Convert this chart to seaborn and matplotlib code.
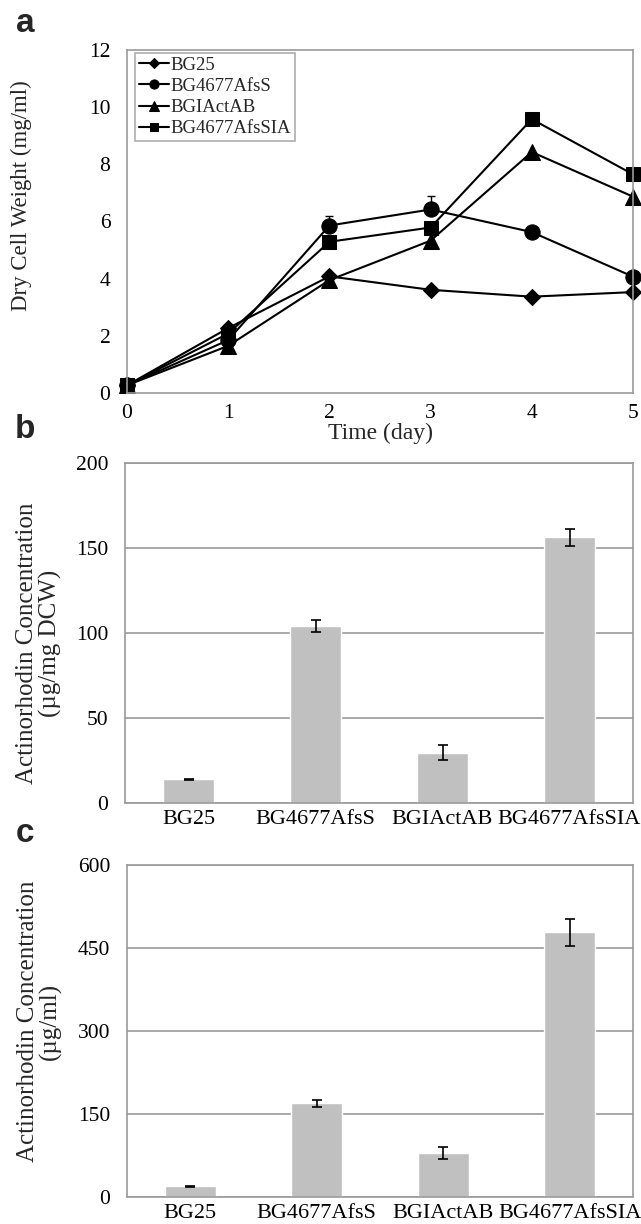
import numpy as np
import pandas as pd
import matplotlib
matplotlib.use("Agg")
import matplotlib.pyplot as plt
import seaborn as sns

# ---------------- data ----------------
days = [0, 1, 2, 3, 4, 5]
strains = ["BG25", "BG4677AfsS", "BGIActAB", "BG4677AfsSIA"]

dcw_bg25 = [0.27, 2.27, 4.08, 3.61, 3.37, 3.53]
dcw_afss = [0.27, 1.85, 5.86, 6.42, 5.63, 4.07]
dcw_actab = [0.27, 1.65, 3.95, 5.33, 8.43, 6.87]
dcw_afssia = [0.27, 2.08, 5.29, 5.79, 9.58, 7.65]
afss_err_days = [2, 3]
afss_err_up = [0.32, 0.48]

act_dcw = [14.1, 104.2, 29.7, 156.2]
act_dcw_err = [0.3, 3.5, 4.5, 4.8]
act_ml = [19.5, 169.0, 79.5, 478.5]
act_ml_err = [1.0, 6.5, 10.0, 24.0]

# ---------------- style ----------------
sns.set_theme(style="white")
plt.rcParams["font.family"] = ["Liberation Serif", "DejaVu Serif"]
FRAME = "#9a9a9a"
BAR = "#c0c0c0"
TICK_FS = 15.5
LAB_FS = 17

fig = plt.figure(figsize=(6.41, 12.24), dpi=100)
H = 1224.0
W = 641.0

def add_axes(l, r, t, b):
    return fig.add_axes([l / W, 1 - b / H, (r - l) / W, (b - t) / H])

# ---------------- panel a ----------------
axa = add_axes(127, 633, 50, 393)
series = [
    ("BG25", dcw_bg25, "D", 8),
    ("BG4677AfsS", dcw_afss, "o", 11),
    ("BGIActAB", dcw_actab, "^", 12),
    ("BG4677AfsSIA", dcw_afssia, "s", 10.5),
]
for name, vals, mk, ms in series:
    df = pd.DataFrame({"day": days, "dcw": vals})
    sns.lineplot(data=df, x="day", y="dcw", ax=axa, color="black",
                 marker=mk, markersize=ms, markeredgecolor="black",
                 markerfacecolor="black", linewidth=1.5, label=name)
err_y = [dcw_afss[d] for d in afss_err_days]
axa.errorbar(afss_err_days, err_y, yerr=[np.zeros(len(afss_err_up)), afss_err_up],
             fmt="none", ecolor="black", elinewidth=1.0, capsize=3, capthick=1.0, zorder=1)

axa.set_xlim(0, 5)
axa.set_ylim(0, 12)
axa.set_xticks(days)
axa.set_yticks([0, 2, 4, 6, 8, 10, 12])
axa.set_xlabel("Time (day)", fontsize=LAB_FS, labelpad=0)
axa.set_ylabel("Dry Cell Weight (mg/ml)", fontsize=LAB_FS - 0.5)
axa.yaxis.set_label_coords(-0.187, 0.574)
axa.tick_params(axis="both", labelsize=TICK_FS, colors="black", length=4,
                width=1, direction="in", pad=8)
axa.tick_params(axis="x", color=FRAME)
axa.tick_params(axis="y", color=FRAME, direction="inout", pad=10)
for sp in axa.spines.values():
    sp.set_color(FRAME)
    sp.set_linewidth(1.2)
for a in axa.lines:
    a.set_clip_on(False)
leg = axa.legend(loc="upper left", bbox_to_anchor=(0.016, 0.992), fontsize=13.5,
                 frameon=True, fancybox=False, edgecolor=FRAME, handlelength=1.6,
                 handletextpad=0.1, borderpad=0.2, labelspacing=0.22,
                 borderaxespad=0.0, markerscale=0.6)
leg.get_frame().set_linewidth(1.2)

# ---------------- bar panels ----------------
def bar_panel(ax, vals, errs, ymax, step, ylabel, ylab_x, ylab_y):
    df = pd.DataFrame({"strain": strains, "val": vals})
    sns.barplot(data=df, x="strain", y="val", ax=ax, color=BAR, saturation=1,
                width=0.4, errorbar=None, zorder=2)
    ax.errorbar(range(len(strains)), vals, yerr=errs, fmt="none", ecolor="black",
                elinewidth=1.2, capsize=3.5, capthick=1.2, zorder=3)
    ax.set_xlim(-0.5, len(strains) - 0.5)
    ax.set_ylim(0, ymax)
    ax.set_yticks(np.arange(0, ymax + 1, step))
    ax.yaxis.grid(True, color=FRAME, linewidth=1.2)
    ax.set_axisbelow(True)
    ax.set_xlabel("")
    ax.set_ylabel(ylabel, fontsize=LAB_FS + 1, linespacing=1.0)
    ax.yaxis.set_label_coords(ylab_x, ylab_y)
    ax.tick_params(axis="x", which="major", length=0, labelsize=TICK_FS + 0.5,
                   colors="black", pad=5)
    ax.set_xticks(np.arange(0.5, len(strains) - 0.5, 1), minor=True)
    ax.tick_params(axis="x", which="minor", length=4, direction="in", color=FRAME, width=1)
    ax.tick_params(axis="y", length=0, labelsize=TICK_FS, colors="black", pad=12)
    for sp in ax.spines.values():
        sp.set_color(FRAME)
        sp.set_linewidth(1.2)

axb = add_axes(125, 633, 463, 803)
bar_panel(axb, act_dcw, act_dcw_err, 200, 50,
          "Actinorhodin Concentration\n(\u00b5g/mg DCW)", -0.125, 0.47)

axc = add_axes(127, 633, 865, 1197)
bar_panel(axc, act_ml, act_ml_err, 600, 150,
          "Actinorhodin Concentration\n(\u00b5g/ml)", -0.129, 0.53)

# panel letters
for letter, y in [("a", 23), ("b", 430), ("c", 833)]:
    fig.text(25 / W, 1 - y / H, letter, fontsize=24, fontweight="bold",
             family="Liberation Sans", ha="center", va="center")

fig.savefig("out.png", dpi=100)
